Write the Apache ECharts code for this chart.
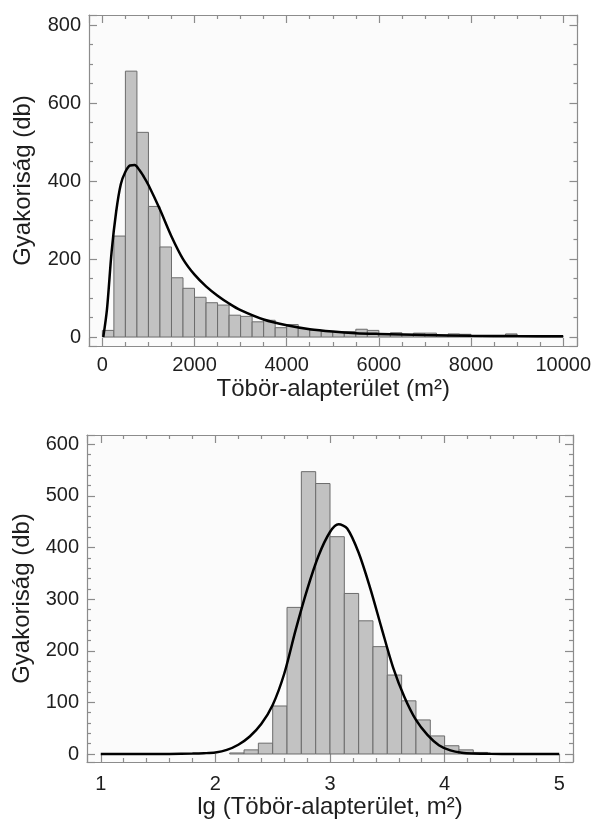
<!DOCTYPE html>
<html>
<head>
<meta charset="utf-8">
<script src="https://cdn.jsdelivr.net/npm/echarts@6/dist/echarts.min.js"></script>
<style>
html,body{margin:0;padding:0;background:#ffffff;}
#chart{width:594px;height:822px;}
</style>
</head>
<body>
<div id="chart"></div>
<script>
// ---------- Top histogram: area (m2), bins of 250 ----------
const topBinStart = [0,250,500,750,1000,1250,1500,1750,2000,2250,2500,2750,3000,3250,3500,3750,4000,4250,4500,4750,5000,5250,5500,5750,6000,6250,6500,6750,7000,7250,7500,7750,8000,8250,8500,8750,9000,9250,9500,9750];
const topBinEnd   = [250,500,750,1000,1250,1500,1750,2000,2250,2500,2750,3000,3250,3500,3750,4000,4250,4500,4750,5000,5250,5500,5750,6000,6250,6500,6750,7000,7250,7500,7750,8000,8250,8500,8750,9000,9250,9500,9750,10000];
const topCounts   = [17,259,682,525,335,231,152,125,102,88,82,56,53,39,43,24,32,22,18,14,14,14,20,17,8,11,7,10,10,5,8,7,3,3,3,8,2,2,1,1];
// fitted curve
const topCurveX = [20,100,200,300,400,500,600,700,800,900,1000,1250,1500,1750,2000,2250,2500,2750,3000,3500,4000,4500,5000,5500,6000,7000,8000,9000,10000];
const topCurveY = [0,71,218,322,392,424,440,441,429,411,390,327,258,200,160,130,106,86,69,45,30,20,14,10,8,5,3.5,2.5,2];
const topXTicks = [0,2000,4000,6000,8000,10000];
const topYTicks = [0,200,400,600,800];

// ---------- Bottom histogram: lg(area), bins of 0.125 ----------
const botBinStart = [2.125,2.25,2.375,2.5,2.625,2.75,2.875,3.0,3.125,3.25,3.375,3.5,3.625,3.75,3.875,4.0,4.125,4.25];
const botBinEnd   = [2.25,2.375,2.5,2.625,2.75,2.875,3.0,3.125,3.25,3.375,3.5,3.625,3.75,3.875,4.0,4.125,4.25,4.375];
const botCounts   = [2,8,21,93,284,547,524,421,311,258,208,153,103,66,35,16,8,3];
const botCurveX = [1.0,1.2,1.4,1.6,1.8,1.9,2.0,2.1,2.2,2.3,2.4,2.5,2.6,2.7,2.8,2.9,3.0,3.075,3.15,3.25,3.35,3.45,3.55,3.65,3.75,3.85,3.95,4.05,4.15,4.25,4.4,4.6,4.8,5.0];
const botCurveY = [0,0,0,0.2,0.8,1.5,3,8,18,34,58,95,155,240,318,384,430,445,437,390,322,244,168,110,66,37,17,7,2.5,1,0.3,0,0,0];
const botXTicks = [1,2,3,4,5];
const botYTicks = [0,100,200,300,400,500,600];

const AXIS = '#8c8c8c';
const TXT = '#1e1e1e';
const FONT = '"Liberation Sans", Arial, sans-serif';

function histData(s, e, c){ return s.map((v,i)=>[v, e[i], c[i]]); }
function pairs(xs, ys){ return xs.map((v,i)=>[v, ys[i]]); }

function renderHist(params, api){
  const p0 = api.coord([api.value(0), api.value(2)]);
  const p1 = api.coord([api.value(1), 0]);
  return {
    type:'rect',
    shape:{x:p0[0], y:p0[1], width:p1[0]-p0[0], height:p1[1]-p0[1]},
    style:{fill:'#c2c2c2', stroke:'#6c6c6c', lineWidth:1}
  };
}

function inList(list){
  return function(v){
    for (const t of list){ if (Math.abs(v - t) < 1e-6) return String(t); }
    return '';
  };
}

function mkAxis(o){
  const base = {
    type:'value',
    gridIndex:o.grid,
    position:o.pos,
    min:o.min, max:o.max,
    splitNumber:o.split,
    scale:true,
    axisLine:{show:true, onZero:false, lineStyle:{color:AXIS, width:1.2}},
    axisTick:{show:true, inside:true, length:8, lineStyle:{color:AXIS, width:1.2}},
    minorTick:{show:true, splitNumber:o.minor, length:4, lineStyle:{color:AXIS, width:1.2}},
    splitLine:{show:false},
    minorSplitLine:{show:false},
    axisLabel:{show:!!o.labels, margin:o.margin||8, color:TXT, fontSize:20, fontFamily:FONT,
               formatter:o.labels ? inList(o.labels) : undefined,
               showMinLabel:true, showMaxLabel:true}
  };
  if (o.name){
    base.name = o.name;
    base.nameLocation = 'middle';
    base.nameGap = o.nameGap;
    base.nameTextStyle = {color:TXT, fontSize:24, fontFamily:FONT};
  }
  return base;
}

const chart = echarts.init(document.getElementById('chart'), null, {renderer:'canvas'});
chart.setOption({
  animation:false,
  backgroundColor:'#ffffff',
  grid:[
    {left:89, top:15, width:489, height:331, show:true, backgroundColor:'#fbfbfb', borderWidth:0},
    {left:87, top:435, width:486, height:327, show:true, backgroundColor:'#fbfbfb', borderWidth:0}
  ],
  xAxis:[
    mkAxis({grid:0,pos:'bottom',min:-290,max:10310,split:5,minor:4,labels:topXTicks,margin:9,name:'Töbör-alapterület (m²)',nameGap:31}),
    mkAxis({grid:0,pos:'top',min:-290,max:10310,split:5,minor:4}),
    mkAxis({grid:1,pos:'bottom',min:0.88,max:5.12,split:4,minor:5,labels:botXTicks,margin:12,name:'lg (Töbör-alapterület, m²)',nameGap:33}),
    mkAxis({grid:1,pos:'top',min:0.88,max:5.12,split:4,minor:5})
  ],
  yAxis:[
    mkAxis({grid:0,pos:'left',min:-23,max:826,split:4,minor:4,labels:topYTicks,margin:8,name:'Gyakoriság (db)',nameGap:54}),
    mkAxis({grid:0,pos:'right',min:-23,max:826,split:4,minor:4}),
    mkAxis({grid:1,pos:'left',min:-15.5,max:618,split:6,minor:5,labels:botYTicks,margin:8,name:'Gyakoriság (db)',nameGap:52}),
    mkAxis({grid:1,pos:'right',min:-15.5,max:618,split:6,minor:5})
  ],
  series:[
    {type:'custom', xAxisIndex:0, yAxisIndex:0, renderItem:renderHist, data:histData(topBinStart, topBinEnd, topCounts), z:2},
    {type:'line', xAxisIndex:0, yAxisIndex:0, data:pairs(topCurveX, topCurveY), showSymbol:false, symbol:'none',
     smooth:0.3, lineStyle:{color:'#000', width:2.5}, z:5},
    {type:'custom', xAxisIndex:2, yAxisIndex:2, renderItem:renderHist, data:histData(botBinStart, botBinEnd, botCounts), z:2},
    {type:'line', xAxisIndex:2, yAxisIndex:2, data:pairs(botCurveX, botCurveY), showSymbol:false, symbol:'none',
     smooth:0.3, lineStyle:{color:'#000', width:2.5}, z:5}
  ]
});
</script>
</body>
</html>
